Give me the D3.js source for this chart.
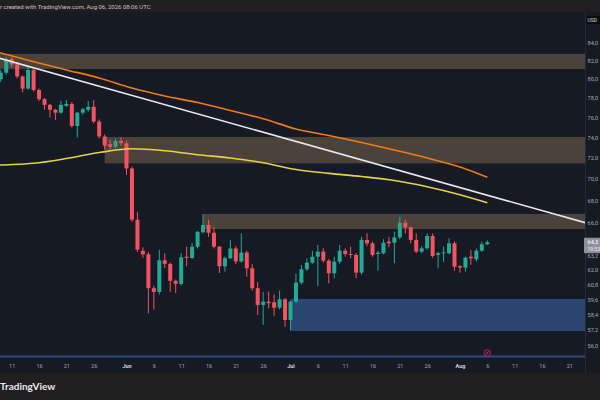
<!DOCTYPE html>
<html><head><meta charset="utf-8">
<script src="https://cdn.jsdelivr.net/npm/d3@7"></script>
<style>html,body{margin:0;padding:0;background:#1f1f1f;overflow:hidden}svg{display:block}</style>
</head><body><svg id="c" width="600" height="400"></svg>
<script>
// ---- data ----
const dates = ["05-09","05-10","05-11","05-12","05-13","05-14","05-15","05-16","05-17","05-18","05-19","05-20","05-21","05-22","05-23","05-24","05-25","05-26","05-27","05-28","05-29","05-30","05-31",
"06-01","06-02","06-03","06-04","06-05","06-06","06-07","06-08","06-09","06-10","06-11","06-12","06-13","06-14","06-15","06-16","06-17","06-18","06-19","06-20","06-21","06-22","06-23","06-24","06-25","06-26","06-27","06-28","06-29","06-30",
"07-01","07-02","07-03","07-04","07-05","07-06","07-07","07-08","07-09","07-10","07-11","07-12","07-13","07-14","07-15","07-16","07-17","07-18","07-19","07-20","07-21","07-22","07-23","07-24","07-25","07-26","07-27","07-28","07-29","07-30","07-31",
"08-01","08-02","08-03","08-04","08-05","08-06"];
const opens = [80.0,80.7,82.2,81.6,80.3,79.0,81.0,78.85,77.9,77.3,76.8,76.5,77.2,77.4,75.15,76.5,76.8,77.1,75.6,74.1,73.35,73.1,73.66,
73.45,71.0,66.3,63.6,63.3,60.5,60.2,62.8,62.5,61.1,60.85,63.1,63.0,63.95,65.2,65.83,65.15,63.95,62.3,62.97,63.8,62.7,63.45,62.13,60.5,59.16,59.42,59.37,58.94,59.61,
57.98,59.42,60.95,62.05,62.6,63.1,63.53,62.77,61.72,62.68,63.61,63.33,63.25,61.77,64.53,64.24,63.33,63.39,64.38,64.29,64.76,66.03,65.63,64.53,63.53,63.81,64.87,63.25,63.39,63.39,64.24,
62.3,62.18,63.10,62.88,63.61,64.16];
const highs = [81.0,82.4,82.4,81.9,80.4,81.5,81.1,79.0,78.0,77.4,76.9,77.7,77.8,77.6,76.6,77.0,77.7,77.8,75.8,74.3,73.75,73.9,74.0,
73.7,71.2,67.0,63.9,63.5,60.7,63.7,63.4,62.6,61.2,63.4,63.95,64.27,65.3,66.8,66.3,65.65,64.0,63.1,64.5,64.0,65.1,63.6,62.5,61.0,60.2,60.22,60.0,60.3,59.7,
59.5,61.7,62.41,62.97,63.6,64.1,63.81,62.9,63.1,64.1,63.8,63.95,63.4,64.81,65.1,64.4,63.6,64.6,64.8,65.24,66.57,66.27,65.7,65.1,64.0,65.1,65.1,63.5,63.95,64.67,64.4,
62.4,63.1,63.67,63.8,64.38,64.5];
const lows = [79.7,80.5,81.3,80.1,78.6,78.9,78.7,77.7,76.8,76.0,75.75,76.4,77.1,75.0,74.0,76.3,76.6,75.4,73.9,72.8,72.8,72.9,73.2,
70.4,66.1,63.5,63.0,58.5,58.8,60.0,62.15,60.2,60.1,60.7,62.3,62.9,63.8,65.1,64.8,63.8,61.74,61.85,62.9,62.5,62.6,61.44,60.3,58.37,57.6,58.9,58.3,58.8,57.46,
57.2,59.3,60.8,61.9,62.5,60.68,62.6,60.9,61.3,62.5,63.1,62.97,61.3,61.6,64.0,63.1,61.93,63.3,63.9,62.55,64.6,65.1,64.24,63.4,63.4,63.7,63.0,62.13,62.68,63.3,61.93,
61.77,61.85,62.41,62.7,63.5,64.1];
const closes = [80.7,82.2,81.6,80.3,79.0,81.0,78.85,77.9,77.3,76.8,76.5,77.3,77.4,75.15,76.5,76.85,77.1,75.6,74.1,73.2,73.1,73.66,73.45,
71.0,66.3,63.7,63.3,60.5,60.2,62.8,62.5,61.1,60.85,63.05,63.0,63.95,65.24,65.83,65.15,63.95,62.3,62.97,63.8,62.7,63.45,62.13,60.5,59.16,59.42,59.3,58.94,59.61,57.98,
59.42,60.95,62.05,62.6,63.1,63.53,62.77,61.72,62.68,63.61,63.33,63.25,61.77,64.53,64.24,63.25,63.44,64.29,64.24,64.76,66.03,65.63,64.53,63.53,63.81,64.87,63.16,63.39,63.47,64.24,62.26,
62.18,63.02,62.97,63.61,64.16,64.33];

const maDates = ["05-08","05-09","05-15","05-21","05-27","06-02","06-08","06-14","06-20","06-26","07-02","07-08","07-14","07-20","07-26","08-01","08-06"];
const maSlow = [83.0,82.86,81.89,81.0,80.13,79.06,78.22,77.54,76.73,75.88,74.85,74.20,73.51,72.77,72.0,71.14,70.17];   // orange
const maFast = [71.3,71.33,71.49,71.95,72.53,72.89,72.70,72.32,72.0,71.55,70.90,70.54,70.24,69.87,69.29,68.55,67.82]; // yellow

const trendDates = ["05-08","08-24"];
const trendPrices = [82.41,66.02];

const zoneStarts = ["05-08","05-28","06-15","07-01"];
const zoneTops = [82.74,74.05,66.81,59.63];
const zoneBottoms = [81.10,71.49,65.48,57.13];
const zoneKinds = ["supply","supply","supply","demand"];

const yTicks = [84,82,80,78,76,74,72,70,68,66,64.4,63.2,62,60.8,59.6,58.4,57.2,56];
const xTickDates = ["05-11","05-16","05-21","05-26","06-01","06-06","06-11","06-16","06-21","06-26","07-01","07-06","07-11","07-16","07-21","07-26","08-01","08-06","08-11","08-16","08-21"];
const monthNames = {5:"May",6:"Jun",7:"Jul",8:"Aug"};
const headerText = "r created with TradingView.com, Aug 06, 2026 08:06 UTC";
const currency = "USD";
const countdown = "19:53";

// ---- layout ----
const W = 600, H = 400;
const paneL = 0, paneR = 585, paneT = 12, paneB = 358;
const parse = s => d3.utcParse("%Y-%m-%d")("2026-" + s);

const x = d3.scaleUtc().domain([parse("05-11"), parse("08-21")]).range([11.7, 569.3]);
const y = d3.scaleLog().domain([84, 56]).range([42.7, 346.0]);

const svg = d3.select("#c");
const font = "Roboto, 'Liberation Sans', sans-serif";
const fmt = v => d3.format(".1f")(v).replace(".", ",");

svg.append("rect").attr("width", W).attr("height", H).attr("fill", "#1f1f1f");
svg.append("rect").attr("x", 0).attr("y", paneT).attr("width", W).attr("height", 373 - paneT).attr("fill", "#161a25");

svg.append("defs").append("clipPath").attr("id", "pane")
  .append("rect").attr("x", paneL).attr("y", paneT).attr("width", paneR - paneL).attr("height", 355 - paneT);

const g = svg.append("g").attr("clip-path", "url(#pane)");

// zones
zoneStarts.forEach((s, i) => {
  g.append("rect")
    .attr("x", x(parse(s)))
    .attr("y", y(zoneTops[i]))
    .attr("width", paneR - x(parse(s)))
    .attr("height", y(zoneBottoms[i]) - y(zoneTops[i]))
    .attr("fill", zoneKinds[i] === "demand" ? "#2b4672" : "#4b4339");
});

// candles
const candles = dates.map((d, i) => ({date: parse(d), o: opens[i], h: highs[i], l: lows[i], c: closes[i]}));
const up = "#22ab94", dn = "#f7525f";
const bw = 4;
const cg = g.append("g");
cg.selectAll("line.w").data(candles).enter().append("line")
  .attr("x1", d => x(d.date)).attr("x2", d => x(d.date))
  .attr("y1", d => y(d.h)).attr("y2", d => y(d.l))
  .attr("stroke", d => d.c >= d.o ? up : dn).attr("stroke-width", 1);
cg.selectAll("rect.b").data(candles).enter().append("rect")
  .attr("x", d => x(d.date) - bw / 2)
  .attr("y", d => y(Math.max(d.o, d.c)))
  .attr("width", bw)
  .attr("height", d => Math.max(1, Math.abs(y(d.o) - y(d.c))))
  .attr("fill", d => d.c >= d.o ? up : dn);

// moving averages
const maLine = vals => d3.line().curve(d3.curveMonotoneX)
  .x((d, i) => x(parse(maDates[i]))).y(d => y(d))(vals);
g.append("path").attr("d", maLine(maFast)).attr("fill", "none").attr("stroke", "#e6d14a").attr("stroke-width", 1.6);
g.append("path").attr("d", maLine(maSlow)).attr("fill", "none").attr("stroke", "#f07c12").attr("stroke-width", 1.6);

// trend line
g.append("path")
  .attr("d", d3.line().x((d, i) => x(parse(trendDates[i]))).y(d => y(d))(trendPrices))
  .attr("stroke", "#e8e8ee").attr("stroke-width", 1.6).attr("fill", "none");

// bottom blue band
svg.append("rect").attr("x", 0).attr("y", 355.5).attr("width", paneR).attr("height", 2).attr("fill", "#2c4b82");

// pane divider
svg.append("line").attr("x1", paneR + 0.5).attr("x2", paneR + 0.5).attr("y1", paneT).attr("y2", 373)
  .attr("stroke", "#262a35").attr("stroke-width", 1);

// right axis
const ya = svg.append("g").attr("transform", `translate(${paneR},0)`)
  .call(d3.axisRight(y).tickValues(yTicks).tickSize(0).tickPadding(2.5).tickFormat(fmt));
ya.select(".domain").remove();
ya.selectAll("text").attr("fill", "#a3a6af").attr("font-size", 5.6).attr("font-family", font);

// bottom axis
const xa = svg.append("g").attr("transform", `translate(0,${paneB})`)
  .call(d3.axisBottom(x).tickValues(xTickDates.map(parse)).tickSize(0)
    .tickFormat(d => d.getUTCDate() === 1 ? monthNames[d.getUTCMonth() + 1] : String(d.getUTCDate())));
xa.select(".domain").remove();
xa.selectAll("text").attr("y", 8).attr("dy", "0.35em")
  .attr("fill", d => d.getUTCDate() === 1 ? "#d1d4dc" : "#a3a6af")
  .attr("font-weight", d => d.getUTCDate() === 1 ? "bold" : "normal")
  .attr("font-size", 5.5).attr("font-family", font);

// last price label
const last = candles[candles.length - 1];
const ly = y(last.c);
svg.append("rect").attr("x", 584).attr("y", ly - 4.5).attr("width", 20).attr("height", 15.5).attr("rx", 1).attr("fill", "#8f929b");
svg.append("text").attr("x", 587.5).attr("y", ly).attr("dy", "0.35em").attr("fill", "#ffffff")
  .attr("font-size", 5.6).attr("font-family", font).text(fmt(last.c));
svg.append("text").attr("x", 587.5).attr("y", ly + 7).attr("dy", "0.35em").attr("fill", "#f0f0f0")
  .attr("font-size", 5).attr("font-family", font).text(countdown);

// currency box
svg.append("rect").attr("x", 586).attr("y", 16).attr("width", 18).attr("height", 8).attr("rx", 1.5).attr("fill", "#0c0d10");
svg.append("text").attr("x", 587.5).attr("y", 20).attr("dy", "0.35em").attr("fill", "#d1d4dc")
  .attr("font-size", 5).attr("font-family", font).text(currency);

// event icon
const ex = x(last.date);
svg.append("circle").attr("cx", ex).attr("cy", 353).attr("r", 3.3).attr("fill", "#2a1a33").attr("stroke", "#c2185b").attr("stroke-width", 1);
svg.append("line").attr("x1", ex - 1.2).attr("y1", 354.5).attr("x2", ex + 1.2).attr("y2", 351.5).attr("stroke", "#e04a8a").attr("stroke-width", 0.8);

// header
svg.append("text").attr("x", 0).attr("y", 6.5).attr("dy", "0.35em").attr("fill", "#c4c4c4")
  .attr("font-size", 6).attr("font-family", font).text(headerText);

// footer logo
svg.append("text").attr("x", 0).attr("y", 386).attr("dy", "0.35em").attr("fill", "#e8e8e8")
  .attr("font-size", 10).attr("font-weight", "bold").attr("font-family", "Lato, 'Open Sans', sans-serif").text("TradingView");
</script></body></html>
